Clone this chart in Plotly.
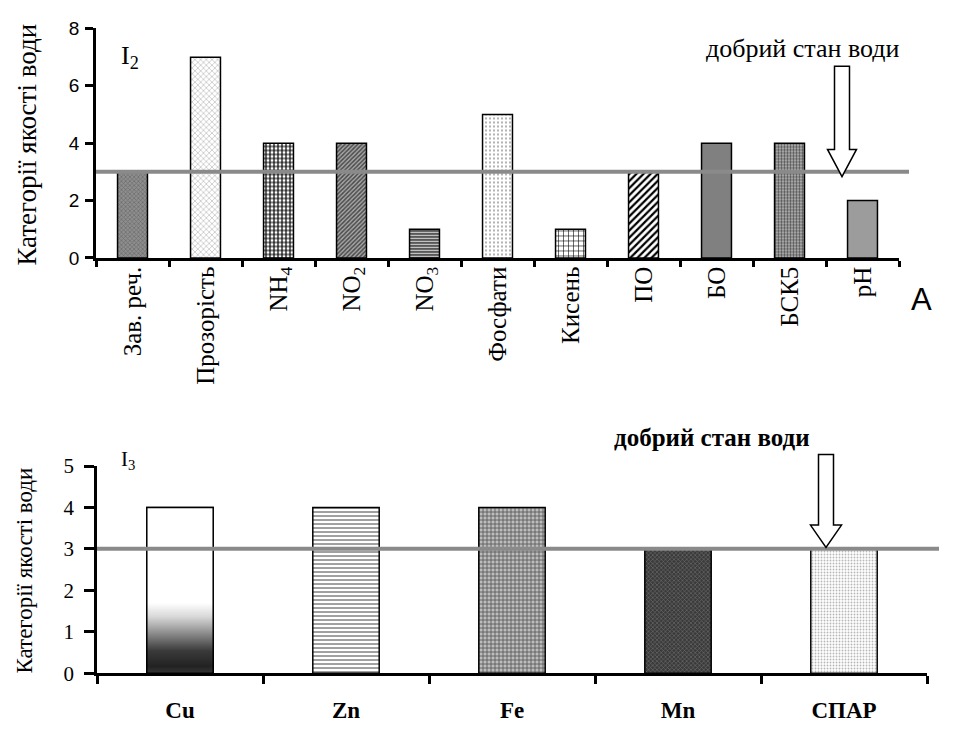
import plotly.graph_objects as go

# ---------------- data ----------------
top_categories = ["Зав. реч.", "Прозорість", "NH<sub>4</sub>", "NO<sub>2</sub>", "NO<sub>3</sub>",
                  "Фосфати", "Кисень", "ПО", "БО", "БСК5", "pH"]
top_values = [3, 7, 4, 4, 1, 5, 1, 3, 4, 4, 2]
top_threshold = 3

bottom_categories = ["Cu", "Zn", "Fe", "Mn", "СПАР"]
bottom_values = [4, 4, 4, 3, 3]
bottom_threshold = 3

top_yticks = [0, 2, 4, 6, 8]
bottom_yticks = [0, 1, 2, 3, 4, 5]

# ---------------- styles ----------------
W, H = 954, 751
SERIF = "Liberation Serif"
SANS = "Liberation Sans"


def px(x):
    return x / W


def py(y):
    return 1 - y / H


top_shapes = ["x", "x", "+", "/", "-", ".", "+", "/", ".", ".", "."]
top_fg = ["#6a6a6a", "#a8a8a8", "#000000", "#4a4a4a", "#000000", "#9a9a9a", "#000000", "#000000",
          "#808080", "#505050", "#9c9c9c"]
top_bg = ["#8e8e8e", "#ffffff", "#ffffff", "#a8a8a8", "#ffffff", "#ffffff", "#ffffff", "#ffffff",
          "#808080", "#c0c0c0", "#9c9c9c"]
top_size = [3, 4, 4, 3, 3, 4, 5, 5, 3, 3, 3]
top_sol = [0.4, 0.25, 0.5, 0.5, 0.5, 0.2, 0.22, 0.45, 0.3, 0.5, 0.3]

bot_shapes = [".", "-", "+", "x", "."]
bot_fg = ["#ffffff", "#a0a0a0", "#5a5a5a", "#707070", "#b8b8b8"]
bot_bg = ["#ffffff", "#ffffff", "#bdbdbd", "#3a3a3a", "#ffffff"]
bot_size = [3, 4, 4, 3, 3]
bot_sol = [0.3, 0.5, 0.4, 0.35, 0.3]

BAR_W_TOP = 0.41
BAR_W_BOT = 0.40

fig = go.Figure()

fig.add_trace(go.Bar(
    x=top_categories, y=top_values, width=BAR_W_TOP, xaxis="x", yaxis="y",
    marker=dict(color="white", line=dict(color="black", width=1.5),
                pattern=dict(shape=top_shapes, fgcolor=top_fg, bgcolor=top_bg,
                             size=top_size, solidity=top_sol, fillmode="replace")),
    showlegend=False, hoverinfo="skip"))

bot_x = list(range(len(bottom_categories)))
fig.add_trace(go.Bar(
    x=bot_x, y=bottom_values, width=BAR_W_BOT, xaxis="x2", yaxis="y2",
    marker=dict(color="white", line=dict(color="black", width=1.5),
                pattern=dict(shape=bot_shapes, fgcolor=bot_fg, bgcolor=bot_bg,
                             size=bot_size, solidity=bot_sol, fillmode="replace")),
    showlegend=False, hoverinfo="skip"))

# gradient fill for the Cu bar (built from its index and value)
ci = 0
cv = bottom_values[ci]
fig.add_trace(go.Scatter(
    x=[ci - BAR_W_BOT / 2, ci + BAR_W_BOT / 2, ci + BAR_W_BOT / 2, ci - BAR_W_BOT / 2, ci - BAR_W_BOT / 2],
    y=[0, 0, cv, cv, 0], xaxis="x2", yaxis="y2", mode="lines", fill="toself",
    line=dict(color="black", width=1.5),
    fillgradient=dict(type="vertical", start=0, stop=cv,
                      colorscale=[[0, "#4a4a4a"], [0.08, "#222222"], [0.17, "#3a3a3a"],
                                  [0.27, "#8a8a8a"], [0.37, "#d8d8d8"], [0.45, "#ffffff"],
                                  [1, "#ffffff"]]),
    showlegend=False, hoverinfo="skip"))

fig.update_layout(
    width=W, height=H, margin=dict(l=0, r=0, t=0, b=0),
    paper_bgcolor="white", plot_bgcolor="white", showlegend=False,
    xaxis=dict(domain=[px(96), px(899)], anchor="y", type="category", tickson="boundaries",
               range=[-0.5, len(top_categories) - 0.5], tickangle=-90,
               tickfont=dict(family=SERIF, size=25, color="black"), ticklabelstandoff=-4,
               showgrid=False, zeroline=False, showline=True, linecolor="black", linewidth=2.5,
               ticks="outside", tickcolor="black", tickwidth=2.5, ticklen=6),
    yaxis=dict(domain=[py(254), py(17)], anchor="x", range=[0, 8], tickvals=top_yticks,
               tickfont=dict(family=SANS, size=19, color="black"), ticklabelstandoff=2,
               showgrid=False, zeroline=False, showline=True, linecolor="black", linewidth=2.5,
               ticks="outside", tickcolor="black", tickwidth=2.5, ticklen=8),
    xaxis2=dict(domain=[px(97), px(927)], anchor="y2", type="linear",
                range=[-0.5, len(bottom_categories) - 0.5],
                tickvals=bot_x, ticktext=bottom_categories,
                tickfont=dict(family=SERIF, size=23, color="black", weight="bold"),
                ticklabelstandoff=14,
                showgrid=False, zeroline=False, showline=True, linecolor="black", linewidth=2.5,
                ticks="",
                minor=dict(tickvals=[i - 0.5 for i in range(len(bottom_categories) + 1)],
                           ticks="outside", ticklen=8, tickwidth=2.5, tickcolor="black", showgrid=False)),
    yaxis2=dict(domain=[py(683), py(469)], anchor="x2", range=[0, 5], tickvals=bottom_yticks,
                tickfont=dict(family=SERIF, size=21, color="black"), ticklabelstandoff=6,
                showgrid=False, zeroline=False, showline=True, linecolor="black", linewidth=2.5,
                ticks="outside", tickcolor="black", tickwidth=2.5, ticklen=10),
)

# threshold lines
fig.add_shape(type="line", xref="paper", yref="y", x0=px(96), x1=px(909),
              y0=top_threshold, y1=top_threshold, line=dict(color="#8a8a8a", width=4), layer="above")
fig.add_shape(type="line", xref="paper", yref="y2", x0=px(97), x1=px(939),
              y0=bottom_threshold, y1=bottom_threshold, line=dict(color="#8a8a8a", width=4), layer="above")


def block_arrow(cx, top, head_y, tip_y, shaft_hw, head_hw):
    pts = [(cx - shaft_hw, top), (cx + shaft_hw, top), (cx + shaft_hw, head_y), (cx + head_hw, head_y),
           (cx, tip_y), (cx - head_hw, head_y), (cx - shaft_hw, head_y)]
    d = "M " + " L ".join(f"{px(x):.5f},{py(y):.5f}" for x, y in pts) + " Z"
    return dict(type="path", xref="paper", yref="paper", path=d, fillcolor="white",
                line=dict(color="black", width=1.5), layer="above")


fig.add_shape(**block_arrow(842, 56, 142, 170, 7.5, 14.5))
fig.add_shape(**block_arrow(826, 457, 530, 553, 7.5, 15.5))

annots = [
    dict(text="Категорії якості води", x=px(27), y=py(137), textangle=-90,
         font=dict(family=SERIF, size=27, color="black")),
    dict(text="Категорії якості води", x=px(25), y=py(577), textangle=-90,
         font=dict(family=SERIF, size=23, color="black")),
    dict(text="I<sub>2</sub>", x=px(130), y=py(47), font=dict(family=SERIF, size=26, color="black")),
    dict(text="I<sub>3</sub>", x=px(128), y=py(463), font=dict(family=SERIF, size=21, color="black")),
    dict(text="добрий стан води", x=px(803), y=py(38), font=dict(family=SERIF, size=26, color="black")),
    dict(text="<b>добрий стан води</b>", x=px(712), y=py(440), font=dict(family=SERIF, size=25, color="black")),
    dict(text="A", x=px(921), y=py(297), font=dict(family=SANS, size=31, color="black")),
]
for a in annots:
    fig.add_annotation(xref="paper", yref="paper", showarrow=False, xanchor="center", yanchor="middle", **a)

fig.write_html("out.html")
